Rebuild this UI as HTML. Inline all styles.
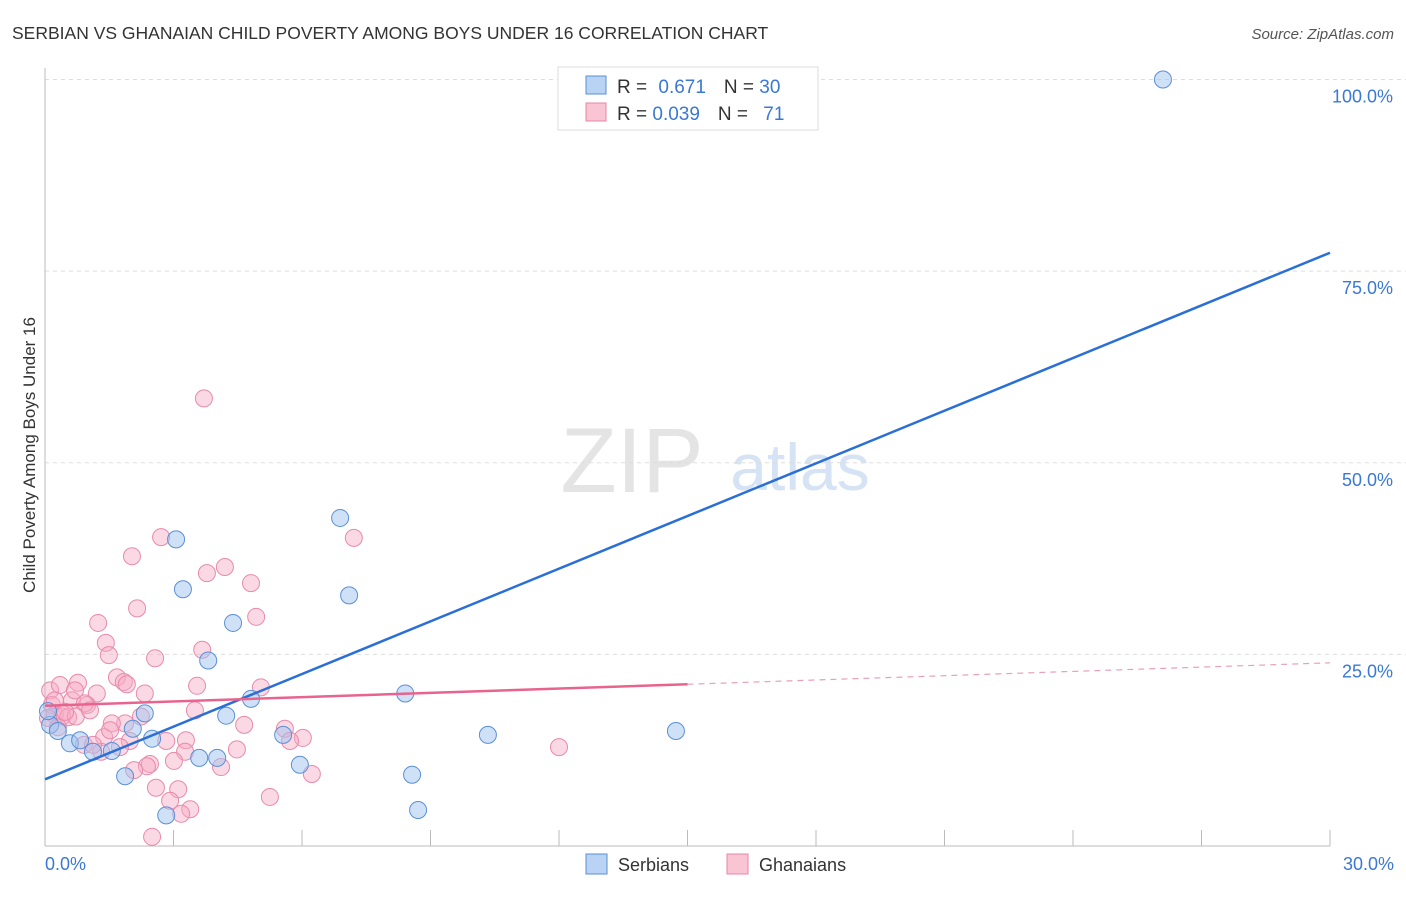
<!DOCTYPE html>
<html><head><meta charset="utf-8"><style>
body{margin:0;background:#fff;font-family:"Liberation Sans",sans-serif}
svg text{font-family:"Liberation Sans",sans-serif}
</style></head><body>
<svg width="1406" height="892" viewBox="0 0 1406 892">
<text x="12" y="39" font-size="17.5" fill="#333">SERBIAN VS GHANAIAN CHILD POVERTY AMONG BOYS UNDER 16 CORRELATION CHART</text>
<text x="1394" y="39" font-size="15" fill="#555" text-anchor="end" font-style="italic">Source: ZipAtlas.com</text>
<text x="632" y="492" font-size="92" fill="#e4e4e4" font-family="Liberation Serif" text-anchor="middle">ZIP</text>
<text x="800" y="490" font-size="66" fill="#d5e3f4" text-anchor="middle">atlas</text>
<g id="grid"></g><g id="axes"></g><g id="pts"></g><g id="lines"></g>
<text x="35" y="455" font-size="17" fill="#333" text-anchor="middle" transform="rotate(-90 35 455)">Child Poverty Among Boys Under 16</text>
<text x="45" y="870" font-size="18" fill="#3a78d4">0.0%</text>
<text x="1394" y="870" font-size="18" fill="#3a78d4" text-anchor="end">30.0%</text>
<g>
<rect x="558" y="67" width="260" height="63" fill="#fff" stroke="#ddd"/>
<rect x="586" y="76" width="20" height="18" fill="#b9d3f5" stroke="#5b8fd6"/>
<rect x="586" y="103" width="20" height="18" fill="#f9c4d3" stroke="#e886a6"/>
<text x="617" y="93" font-size="19" fill="#333">R = <tspan fill="#3a78d4" dx="6">0.671</tspan><tspan dx="18" fill="#333">N = </tspan><tspan fill="#3a78d4">30</tspan></text>
<text x="617" y="120" font-size="19" fill="#333">R = <tspan fill="#3a78d4">0.039</tspan><tspan dx="18" fill="#333">N = </tspan><tspan fill="#3a78d4" dx="10">71</tspan></text>
</g>
<g>
<rect x="586" y="854" width="21" height="20" fill="#b9d3f5" stroke="#5b8fd6"/>
<text x="618" y="871" font-size="18" fill="#333">Serbians</text>
<rect x="727" y="854" width="21" height="20" fill="#f9c4d3" stroke="#e886a6"/>
<text x="759" y="871" font-size="18" fill="#333">Ghanaians</text>
</g>
</svg>
<script>
const serbX=[26.1,6.89,3.06,7.10,3.22,4.39,3.81,8.41,4.81,4.23,2.33,14.73,10.34,5.56,2.05,2.50,0.58,0.82,1.56,1.12,3.60,4.02,5.95,8.57,1.87,2.83,8.71,0.12,0.30,0.07];
const serbY=[100.0,42.8,40.0,32.7,33.5,29.1,24.2,19.9,19.2,17.0,17.3,15.0,14.5,14.5,15.3,14.0,13.4,13.8,12.4,12.3,11.5,11.5,10.6,9.3,9.1,4.0,4.7,15.8,15.0,17.6];
const ghanX=[3.71,2.71,7.21,2.03,4.20,3.78,4.81,2.15,4.93,1.24,1.42,1.49,2.57,3.67,1.68,1.84,1.91,5.04,3.55,0.12,0.35,0.77,1.21,2.33,0.63,0.98,0.93,0.16,0.23,0.40,0.54,0.72,0.07,3.50,2.24,1.87,1.56,4.65,5.60,6.02,5.72,2.83,3.29,1.98,1.38,0.30,0.91,1.31,1.75,1.12,4.48,3.27,3.01,2.45,2.38,4.11,2.08,6.23,12.00,2.59,5.25,3.11,2.92,3.39,3.18,2.50,0.23,0.47,0.70,1.05,1.52];
const ghanY=[58.4,40.3,40.2,37.8,36.4,35.6,34.3,31.0,29.9,29.1,26.5,24.9,24.5,25.6,22.0,21.4,21.1,20.7,20.9,20.3,21.0,21.3,19.9,19.9,19.0,18.4,18.6,18.4,17.1,16.9,16.8,16.9,16.7,17.7,16.9,16.0,16.0,15.8,15.3,14.1,13.7,13.7,13.8,13.7,14.2,15.5,13.2,12.3,12.9,13.2,12.6,12.3,11.1,10.7,10.4,10.3,9.9,9.4,12.9,7.6,6.4,7.4,5.9,4.8,4.2,1.2,19.0,17.5,20.3,17.7,15.1];
const serbTrend=[8.7,77.4];
const ghanTrend=[18.3,23.9];
const yTicks=[25,50,75,100];
const yTickLabels=["25.0%","50.0%","75.0%","100.0%"];
const xTicks=[0,3,6,9,12,15,18,21,24,27,30];
const NS="http://www.w3.org/2000/svg";
const X=v=>45+v*(1285/30);
const Y=v=>846-v*7.665;
function mk(tag,attrs,parent){const e=document.createElementNS(NS,tag);for(const k in attrs)e.setAttribute(k,attrs[k]);document.getElementById(parent).appendChild(e);return e;}
yTicks.forEach((t,i)=>{
 const l=mk('line',{x1:45,x2:1420,y1:Y(t),y2:Y(t),stroke:'#ddd','stroke-dasharray':'4,4'},'grid');
 
 
 const tx=mk('text',{x:1393,y:Y(t)+23,'font-size':18,fill:'#3a78d4','text-anchor':'end'},'grid');
 tx.textContent=yTickLabels[i];
 
 
});
const ax=mk('line',{x1:45,x2:1330,y1:846,y2:846,stroke:'#bbb'},'axes');


const ay=mk('line',{x1:45,x2:45,y1:68,y2:846,stroke:'#bbb'},'axes');


xTicks.forEach(t=>{
 const l=mk('line',{x1:X(t),x2:X(t),y1:830,y2:846,stroke:'#bbb'},'axes');
 
 
});
ghanX.forEach((v,i)=>{
 const c=mk('circle',{cx:X(v),cy:Y(ghanY[i]),r:8.5,fill:'rgba(247,170,195,0.45)',stroke:'#e88aab','stroke-width':1},'pts');
 
 
});
serbX.forEach((v,i)=>{
 const c=mk('circle',{cx:X(v),cy:Y(serbY[i]),r:8.5,fill:'rgba(160,196,240,0.5)',stroke:'#5b8fd6','stroke-width':1},'pts');
 
 
});
const bl=mk('line',{x1:X(0),y1:Y(serbTrend[0]),x2:X(30),y2:Y(serbTrend[1]),stroke:'#2a6fd6','stroke-width':2.5},'lines');


const gMid=ghanTrend[0]+(ghanTrend[1]-ghanTrend[0])*0.5;
const pl=mk('line',{x1:X(0),y1:Y(ghanTrend[0]),x2:X(15),y2:Y(gMid),stroke:'#e8648f','stroke-width':2.5},'lines');


const pd=mk('line',{x1:X(15),y1:Y(gMid),x2:X(30),y2:Y(ghanTrend[1]),stroke:'#e8a0b8','stroke-width':1.2,'stroke-dasharray':'6,5'},'lines');


</script>
</body></html>
